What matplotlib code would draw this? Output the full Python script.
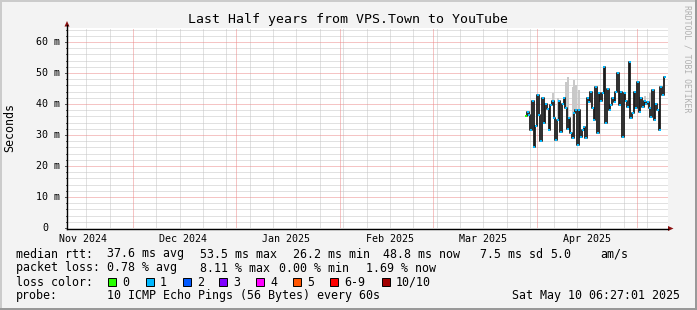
import numpy as np
import pandas as pd
import matplotlib
matplotlib.use("Agg")
import matplotlib.pyplot as plt
from matplotlib.patches import Rectangle, Polygon
from matplotlib.transforms import blended_transform_factory

W, H = 697, 310
MONO = "DejaVu Sans Mono"

# time window shown on the graph
END = pd.Timestamp("2025-05-10 06:27:01")
START = END - pd.Timedelta(days=180)

# median rtt in ms, one value per 12 h bin starting here
DATA_START = pd.Timestamp("2025-03-28 18:00")
rtt_ms = [
    36.0, 37.4, 36.5, 31.6, 41.0, 26.2, 33.0, 43.0, 36.5, 28.0,
    42.0, 34.0, 40.0, 38.5, 31.6, 39.7, 41.0, 35.5, 28.4, 35.0,
    41.0, 31.0, 40.0, 42.0, 38.6, 32.0, 35.5, 30.6, 29.0, 37.0,
    38.0, 26.8, 38.0, 29.4, 31.6, 32.6, 29.0, 42.0, 40.6, 44.0,
    38.6, 35.0, 45.5, 30.6, 43.5, 41.0, 43.5, 52.0, 34.0, 45.0,
    38.0, 39.7, 42.0, 40.6, 44.0, 50.0, 39.7, 44.0, 29.4, 43.5,
    41.0, 39.0, 53.5, 35.5, 37.0, 44.0, 38.6, 47.0, 37.4, 42.0,
    39.0, 41.0, 40.0, 40.6, 38.6, 35.8, 44.5, 35.0, 40.0, 38.0,
    31.6, 45.5, 43.0, 48.8,
]

# bins where the smoke (ping spread) reaches above the median line
smoke_idx = [16, 19, 24, 25, 28, 29, 30, 32, 71, 74]
smoke_top = [43.5, 42.0, 47.0, 48.7, 45.5, 47.7, 46.0, 44.5, 42.5, 43.5]

month_labels = ["Nov 2024", "Dec 2024", "Jan 2025", "Feb 2025", "Mar 2025", "Apr 2025"]
month_label_dates = ["2024-11-16", "2024-12-16", "2025-01-16", "2025-02-16", "2025-03-16", "2025-04-16"]

ytick_vals = [0, 10, 20, 30, 40, 50, 60]
ytick_labels = ["0", "10 m", "20 m", "30 m", "40 m", "50 m", "60 m"]

loss_names = ["0", "1", "2", "3", "4", "5", "6-9", "10/10"]
loss_colors = ["#26ff00", "#00b8ff", "#0059ff", "#7e00ff", "#ff00ff", "#ff5500", "#ff0000", "#a10000"]
loss_box_x = [108, 146, 183, 219, 256, 293, 330, 382]

title = "Last Half years from VPS.Town to YouTube"
probe_text = "10 ICMP Echo Pings (56 Bytes) every 60s"
stamp_text = "Sat May 10 06:27:01 2025"


def fx(x):
    return x / W


def fy(y):
    return 1 - y / H


fig = plt.figure(figsize=(W / 100, H / 100), dpi=100)
fig.patch.set_facecolor("#f3f3f3")

# plot area in pixels: x 67..668, y 28..228
ax = fig.add_axes([fx(67), fy(228), 601 / W, 200 / H])
ax.set_facecolor("white")
ax.set_xlim(START, END)
ax.set_ylim(0, 200 / 3.1)
for s in ax.spines.values():
    s.set_visible(False)
ax.set_xticks([])
ax.set_yticks([])

# dotted grid
dots = (0, (1, 1))
for v in np.arange(2, 65, 2):
    if v % 10:
        ax.axhline(v, color="#c4c4c4", lw=0.72, ls=dots, zorder=0)
for v in range(10, 61, 10):
    ax.axhline(v, color="#ec8a8a", lw=0.72, ls=dots, zorder=0.5)

months = pd.date_range("2024-12-01", END, freq="MS")
sundays = pd.date_range("2024-11-17", END, freq="W-SUN").difference(months)
for d in sundays:
    ax.axvline(d, color="#c4c4c4", lw=0.72, ls=dots, zorder=0)
for d in months:
    ax.axvline(d, color="#ec8a8a", lw=0.72, ls=dots, zorder=0.5)

# data
times = pd.date_range(DATA_START, periods=len(rtt_ms), freq="12h")
rtt = np.array(rtt_ms)
ax.vlines(times[smoke_idx], rtt[smoke_idx], smoke_top, color="#c8c8c8", lw=1.4, zorder=2)
ax.plot(times, rtt, color="#1c1c1c", lw=1.3, drawstyle="steps-mid", zorder=3)
ax.plot(times[1:], rtt[1:], ls="none", marker="s", ms=1.7, mew=0,
        color=loss_colors[1], zorder=4)
ax.plot(times[:1], rtt[:1], ls="none", marker="s", ms=1.8, mew=0,
        color=loss_colors[0], zorder=4)

# y tick labels and ticks
ylab_tr = blended_transform_factory(fig.transFigure, ax.transData)
for v, lab in zip(ytick_vals, ytick_labels):
    xr = 59.5 if lab != "0" else 48.5
    ax.text(fx(xr), v, lab, transform=ylab_tr, ha="right", va="center",
            fontsize=7.2, family=MONO, color="#000000")
for v in np.arange(0, 65, 2):
    ln = 2.5 if v % 10 == 0 else 1.5
    ax.plot([fx(67 - ln), fx(67)], [v, v], transform=ylab_tr, color="#555555",
            lw=0.7, clip_on=False)

# x labels
xlab_tr = blended_transform_factory(ax.transData, fig.transFigure)
for d, lab in zip(month_label_dates, month_labels):
    ax.text(pd.Timestamp(d), fy(238.5), lab, transform=xlab_tr, ha="center",
            va="center", fontsize=7.2, family=MONO, color="#000000")

# overlay for axes, arrows, frame and legend (pixel coordinates)
ov = fig.add_axes([0, 0, 1, 1], zorder=5)
ov.set_xlim(0, W)
ov.set_ylim(H, 0)
ov.axis("off")
ov.patch.set_alpha(0)

ov.plot([67, 668], [228.5, 228.5], color="black", lw=1.0)
ov.plot([67, 67], [228.5, 25], color="black", lw=1.0)
ov.add_patch(Polygon([[64.5, 26.5], [69.5, 26.5], [67, 21]], closed=True,
                     color="#8b1010", lw=0))
ov.add_patch(Polygon([[668, 226], [668, 231], [673.5, 228.5]], closed=True,
                     color="#8b1010", lw=0))

# 3D frame
ov.add_patch(Rectangle((0, 0), W, 2, color="#cbcbcb", lw=0))
ov.add_patch(Rectangle((0, 0), 2, H, color="#cbcbcb", lw=0))
ov.add_patch(Rectangle((0, H - 2.5), W, 2.5, color="#999999", lw=0))
ov.add_patch(Rectangle((W - 2.5, 0), 2.5, H, color="#999999", lw=0))

fig.text(fx(348), fy(19), title, ha="center", va="center", fontsize=9.5,
         family=MONO, color="#000000")
fig.text(fx(10), fy(128), "Seconds", ha="center", va="center", rotation=90,
         fontsize=8.4, family=MONO, color="#000000")
fig.text(fx(687), fy(5), "RRDTOOL / TOBI OETIKER", ha="center", va="top",
         rotation=270, fontsize=5.9, family=MONO, color="#b0b0b0")

leg = dict(fontsize=8.4, family=MONO, color="#000000", va="center", ha="left")
row1 = [(16, "median rtt:"), (107, "37.6 ms avg"), (200, "53.5 ms max"),
        (293, "26.2 ms min"), (383, "48.8 ms now"), (480, "7.5 ms sd"),
        (550, "5.0"), (600, "am/s")]
row2 = [(16, "packet loss:"), (107, "0.78 % avg"), (200, "8.11 % max"),
        (279, "0.00 % min"), (366, "1.69 % now")]
for x, t in row1:
    fig.text(fx(x), fy(254), t, **leg)
for x, t in row2:
    fig.text(fx(x), fy(268), t, **leg)

fig.text(fx(16), fy(282), "loss color:", **leg)
for x, name, col in zip(loss_box_x, loss_names, loss_colors):
    ov.add_patch(Rectangle((x, 278), 8, 8, facecolor=col, edgecolor="black", lw=0.7))
    fig.text(fx(x + 14), fy(282), name, **leg)

fig.text(fx(16), fy(296), "probe:", **leg)
fig.text(fx(107), fy(296), probe_text, **leg)
fig.text(fx(680), fy(296), stamp_text, **{**leg, "ha": "right"})

fig.savefig("out.png", dpi=100, facecolor=fig.get_facecolor())
